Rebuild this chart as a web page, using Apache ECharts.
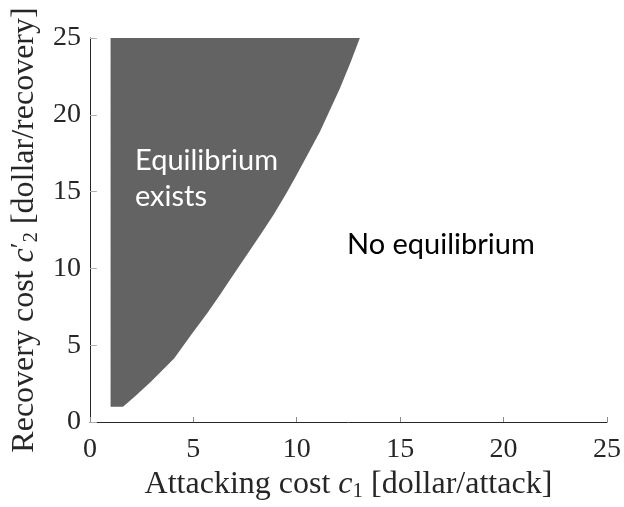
<!DOCTYPE html>
<html>
<head>
<meta charset="utf-8">
<script src="https://cdn.jsdelivr.net/npm/echarts@6/dist/echarts.min.js"></script>
<style>
html,body{margin:0;padding:0;background:#fff;}
#chart{width:624px;height:507px;}
</style>
</head>
<body>
<div id="chart"></div>
<script>
// Boundary of the "equilibrium exists" region (c1, c2')
const regionX = [1.0, 1.6, 2.2, 2.96, 3.6, 4.08, 4.88, 5.68, 6.3, 6.79, 7.6, 8.3, 8.88, 9.5, 10.0, 10.6, 11.12, 11.6, 12.08, 12.6, 13.05, 1.0];
const regionY = [1.0, 1.0, 1.7, 2.64, 3.5, 4.15, 5.65, 7.1, 8.3, 9.3, 10.9, 12.3, 13.5, 14.9, 16.1, 17.6, 18.9, 20.3, 21.7, 23.4, 25.0, 25.0];
const xTicks = [0, 5, 10, 15, 20, 25];
const yTicks = [0, 5, 10, 15, 20, 25];
const labelInside = ['Equilibrium', 'exists'];
const labelOutside = 'No equilibrium';

const serif = 'Liberation Serif';
const chart = echarts.init(document.getElementById('chart'), null, {renderer: 'canvas'});

const regionData = regionX.map((x, i) => [x, regionY[i]]);

const nameRich = {
  n: {fontFamily: serif, fontSize: 32, color: '#262626', lineHeight: 34},
  i: {fontFamily: serif, fontSize: 32, fontStyle: 'italic', color: '#262626', lineHeight: 34},
  sub: {fontFamily: serif, fontSize: 21, color: '#262626', lineHeight: 12, verticalAlign: 'bottom'},
  sup: {fontFamily: serif, fontSize: 26, color: '#262626', lineHeight: 34, verticalAlign: 'top'}
};

chart.setOption({
  animation: false,
  backgroundColor: '#ffffff',
  grid: {left: 88, right: 15, top: 38, bottom: 83, containLabel: false},
  xAxis: {
    type: 'value', min: xTicks[0], max: xTicks[xTicks.length - 1], interval: 5,
    axisLine: {show: true, lineStyle: {color: '#262626', width: 1}},
    axisTick: {show: true, inside: true, length: 5, lineStyle: {color: '#8a8a8a'}},
    splitLine: {show: false},
    axisLabel: {fontFamily: serif, fontSize: 28, color: '#262626', margin: 14},
    name: '{n|Attacking cost }{i|c}{sub|1}{n| [dollar/attack]}',
    nameLocation: 'middle', nameGap: 46,
    nameTextStyle: {rich: nameRich}
  },
  yAxis: {
    type: 'value', min: yTicks[0], max: yTicks[yTicks.length - 1], interval: 5,
    axisLine: {show: true, lineStyle: {color: '#262626', width: 1}},
    axisTick: {show: true, inside: true, length: 7, lineStyle: {color: '#b0b0b0'}},
    splitLine: {show: false},
    axisLabel: {fontFamily: serif, fontSize: 28, color: '#262626', margin: 9},
    name: '{n|Recovery cost }{i|c}{sup|′}{sub|2}{n| [dollar/recovery]}',
    nameLocation: 'middle', nameGap: 46, nameRotate: 90,
    nameTextStyle: {rich: nameRich}
  },
  series: [{
    type: 'custom',
    data: [[0, 0]],
    clip: true,
    renderItem: function (params, api) {
      const pts = regionData.map(p => api.coord(p));
      return {
        type: 'polygon',
        shape: {points: pts, smooth: 0},
        style: {fill: '#636363', stroke: null}
      };
    },
    z: 1
  }],
  graphic: [
    {type: 'text', left: 135, top: 146, z: 10,
     style: {text: labelInside[0], fontFamily: 'Lato', fontSize: 29, fill: '#ffffff'}},
    {type: 'text', left: 135, top: 182, z: 10,
     style: {text: labelInside[1], fontFamily: 'Lato', fontSize: 29, fill: '#ffffff'}},
    {type: 'text', left: 347, top: 230, z: 10,
     style: {text: labelOutside, fontFamily: 'Lato', fontSize: 29, fill: '#000000'}}
  ]
});
</script>
</body>
</html>
